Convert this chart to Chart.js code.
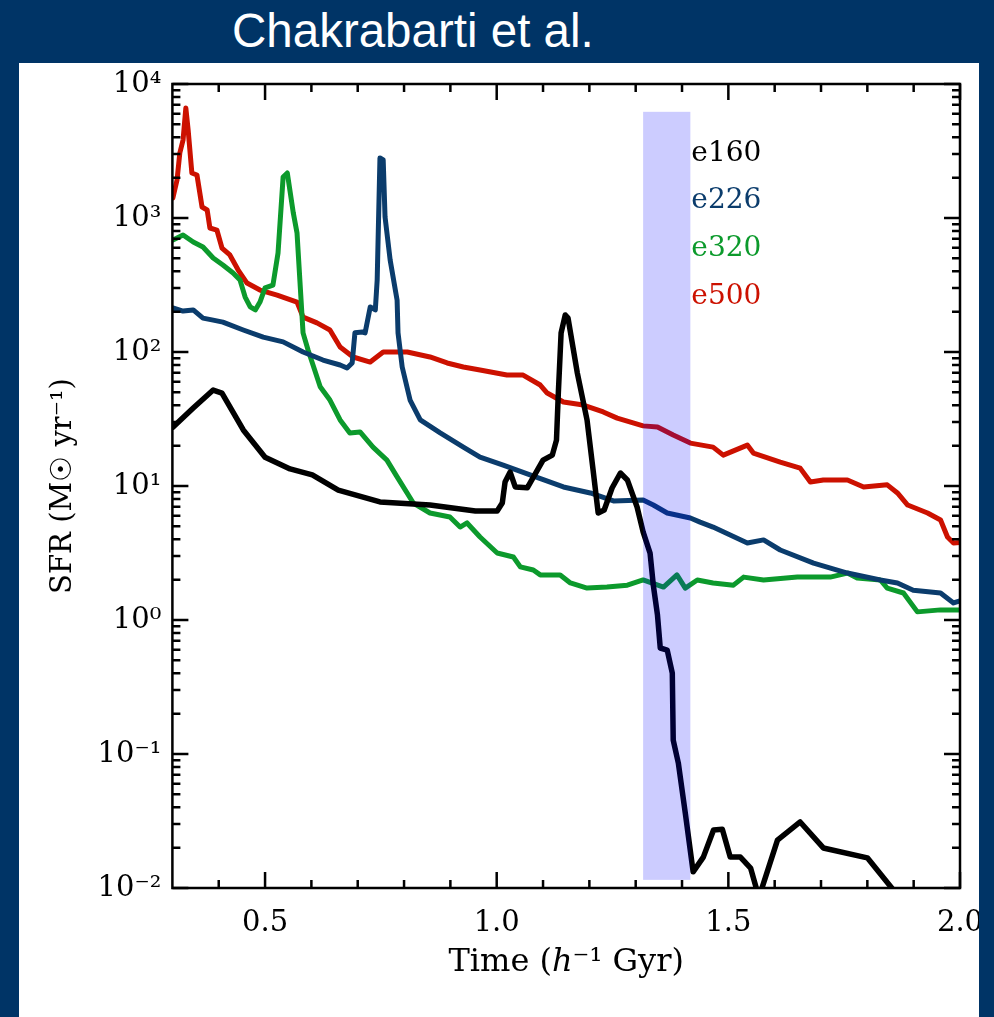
<!DOCTYPE html>
<html>
<head>
<meta charset="utf-8">
<script src="https://cdn.jsdelivr.net/npm/chart.js@4.4.1/dist/chart.umd.min.js"></script>
<style>
  html, body { margin: 0; padding: 0; }
  body { width: 994px; height: 1017px; background: #003466; position: relative; overflow: hidden; }
  #title { position: absolute; left: 232px; top: 8px; color: #fff; font: 47.5px/46px "Liberation Sans", Arial, sans-serif; white-space: nowrap; }
  #panel { position: absolute; left: 19px; top: 63px; width: 960px; height: 954px; background: #fff; overflow: hidden; }
  #chart { position: absolute; left: -19px; top: -63px; }
</style>
</head>
<body>
<div id="title">Chakrabarti et al.</div>
<div id="panel"><canvas id="chart" width="994" height="1017"></canvas></div>
<script>
// [time (h^-1 Gyr), SFR (Msun/yr)]
const e160 = [[0.301,27.5],[0.345,38.2],[0.388,52.0],[0.407,49.4],[0.453,26.2],[0.500,16.4],[0.554,13.4],[0.602,12.1],
  [0.658,9.33],[0.748,7.60],[0.856,7.21],[0.954,6.51],[1.001,6.5],[1.012,7.46],[1.018,10.7],[1.029,12.7],[1.040,9.84],
  [1.066,9.7],[1.100,15.6],[1.120,17.0],[1.129,22.0],[1.133,49.4],[1.139,139],[1.148,189],[1.154,179],[1.174,69.7],
  [1.195,31.1],[1.208,13.2],[1.219,6.29],[1.232,6.62],[1.249,9.66],[1.267,12.5],[1.282,11.1],[1.303,6.97],[1.316,4.54],
  [1.331,3.16],[1.338,1.82],[1.347,1.09],[1.353,0.618],[1.368,0.597],[1.379,0.402],[1.381,0.127],[1.392,0.0857],
  [1.407,0.0363],[1.424,0.0132],[1.446,0.0170],[1.468,0.0271],[1.487,0.0274],[1.504,0.0170],[1.526,0.0170],
  [1.548,0.0141],[1.566,0.0085],[1.606,0.0228],[1.655,0.0311],[1.705,0.0199],[1.800,0.0168],[1.882,0.0075]];

const e226 = [[0.301,213],[0.323,202],[0.345,206],[0.366,179],[0.388,173],[0.409,167],[0.453,146],[0.496,129],
  [0.539,119],[0.582,100],[0.625,87.1],[0.662,80.0],[0.677,76.0],[0.688,82.8],[0.694,139],[0.710,141],[0.716,139],
  [0.727,217],[0.738,206],[0.742,344],[0.748,2805],[0.755,2710],[0.759,1016],[0.770,486],[0.785,244],[0.787,139],
  [0.796,77.3],[0.813,43.8],[0.835,31.1],[0.878,24.9],[0.928,19.5],[0.964,16.4],[1.014,14.3],[1.072,12.1],[1.144,9.84],
  [1.202,8.87],[1.252,7.73],[1.316,7.87],[1.338,7.21],[1.368,6.29],[1.418,5.77],[1.439,5.38],[1.467,4.94],[1.541,3.76],
  [1.576,3.96],[1.612,3.33],[1.684,2.66],[1.757,2.24],[1.828,1.99],[1.865,1.89],[1.899,1.67],[1.958,1.59],[1.986,1.34],
  [2.005,1.41]];

const e320 = [[0.301,685],[0.323,747],[0.345,662],[0.366,608],[0.388,503],[0.409,446],[0.431,389],[0.446,344],
  [0.457,257],[0.468,217],[0.479,206],[0.489,236],[0.500,301],[0.517,316],[0.528,548],[0.539,2023],[0.548,2168],
  [0.561,1089],[0.569,773],[0.582,139],[0.593,103],[0.619,55],[0.640,43.8],[0.662,31.1],[0.683,24.9],[0.705,25.3],
  [0.733,19.5],[0.763,15.6],[0.785,11.7],[0.820,7.46],[0.856,6.29],[0.899,5.87],[0.921,4.94],[0.936,5.30],[0.964,4.16],
  [1.001,3.16],[1.036,2.95],[1.051,2.49],[1.079,2.36],[1.094,2.17],[1.137,2.17],[1.159,1.89],[1.195,1.73],[1.238,1.76],
  [1.282,1.82],[1.316,1.99],[1.360,1.76],[1.389,2.17],[1.407,1.73],[1.433,1.99],[1.467,1.89],[1.511,1.82],[1.533,2.09],
  [1.576,1.99],[1.649,2.09],[1.720,2.09],[1.757,2.24],[1.778,2.06],[1.828,1.99],[1.843,1.73],[1.878,1.59],[1.908,1.15],
  [1.958,1.19],[2.005,1.19]];

const e500 = [[0.301,1409],[0.310,1921],[0.316,3055],[0.323,3819],[0.329,6622],[0.334,4537],[0.342,2168],[0.353,2094],
  [0.364,1208],[0.375,1148],[0.381,842],[0.396,813],[0.407,597],[0.424,530],[0.442,409],[0.461,327],[0.489,290],
  [0.526,266],[0.569,236],[0.582,182],[0.612,165],[0.640,146],[0.662,109],[0.690,91.8],[0.727,84.1],[0.755,100],
  [0.807,100],[0.856,91.8],[0.893,82.8],[0.928,77.3],[0.964,73.4],[1.022,67.3],[1.057,67.3],[1.094,56.7],[1.109,49.4],
  [1.144,42.4],[1.187,40.2],[1.230,35.7],[1.260,32.1],[1.316,28.1],[1.347,27.6],[1.381,24.0],[1.418,20.9],[1.467,19.5],
  [1.489,17.0],[1.541,20.2],[1.554,17.6],[1.612,15.1],[1.655,13.6],[1.677,10.7],[1.705,11.1],[1.757,11.1],[1.792,9.84],
  [1.843,10.2],[1.865,8.87],[1.887,7.21],[1.930,6.29],[1.958,5.57],[1.973,4.16],[1.986,3.76],[2.005,3.80]];

const seriesNames = ['e160', 'e226', 'e320', 'e500'];
const seriesColors = ['#000000', '#0b3c6c', '#0c9a2c', '#cc1100'];

// shaded time window
const bandTime = [1.316, 1.418];
const bandSFR = [0.0115, 6200];

const xMajorTicks = [0.5, 1.0, 1.5, 2.0];
const xMinorTicks = [0.4, 0.6, 0.7, 0.8, 0.9, 1.1, 1.2, 1.3, 1.4, 1.6, 1.7, 1.8, 1.9];
const yMajorTicks = [0.01, 0.1, 1, 10, 100, 1000, 10000];
const yTickLabels = ['10⁻²', '10⁻¹', '10⁰', '10¹', '10²', '10³', '10⁴'];
const yMinorTicks = [];
for (let d = 0; d < yMajorTicks.length - 1; d++) {
  for (let m = 2; m <= 9; m++) yMinorTicks.push(yMajorTicks[d] * m);
}

const serif = '"DejaVu Serif", serif';

const decorations = {
  id: 'decorations',
  afterDatasetsDraw(chart) {
    const {ctx, scales: {x, y}} = chart;
    const x0 = x.getPixelForValue(bandTime[0]), x1 = x.getPixelForValue(bandTime[1]);
    const y0 = y.getPixelForValue(bandSFR[1]), y1 = y.getPixelForValue(bandSFR[0]);
    ctx.save();
    ctx.fillStyle = 'rgba(0,0,255,0.2)';
    ctx.fillRect(x0, y0, x1 - x0, y1 - y0);
    ctx.restore();
  },
  afterDraw(chart) {
    const {ctx, chartArea: a, scales: {x, y}} = chart;
    ctx.save();
    ctx.strokeStyle = '#000';
    ctx.lineWidth = 2.5;
    ctx.strokeRect(a.left, a.top, a.right - a.left, a.bottom - a.top);

    const tickX = (v, len) => {
      const p = x.getPixelForValue(v);
      ctx.beginPath();
      ctx.moveTo(p, a.bottom); ctx.lineTo(p, a.bottom - len);
      ctx.moveTo(p, a.top); ctx.lineTo(p, a.top + len);
      ctx.stroke();
    };
    const tickY = (v, len) => {
      const p = y.getPixelForValue(v);
      ctx.beginPath();
      ctx.moveTo(a.left, p); ctx.lineTo(a.left + len, p);
      ctx.moveTo(a.right, p); ctx.lineTo(a.right - len, p);
      ctx.stroke();
    };
    xMajorTicks.forEach(v => tickX(v, 16));
    xMinorTicks.forEach(v => tickX(v, 8));
    yMajorTicks.forEach(v => tickY(v, 16));
    yMinorTicks.forEach(v => tickY(v, 8));

    // series labels next to the band
    ctx.font = '28px ' + serif;
    ctx.textBaseline = 'alphabetic';
    ctx.textAlign = 'left';
    const lx = x.getPixelForValue(bandTime[1]) + 1;
    seriesNames.forEach((name, i) => {
      ctx.fillStyle = seriesColors[i];
      ctx.fillText(name, lx, a.top + 76.5 + i * 47.7);
    });

    // x-axis title with italic h
    const parts = [['Time (', '32px ' + serif], ['h', 'italic 32px ' + serif], ['⁻¹ Gyr)', '32px ' + serif]];
    let total = 0;
    parts.forEach(p => { ctx.font = p[1]; total += ctx.measureText(p[0]).width; });
    let cx = (a.left + a.right) / 2 - total / 2;
    ctx.fillStyle = '#000';
    parts.forEach(p => {
      ctx.font = p[1];
      ctx.fillText(p[0], cx, 971);
      cx += ctx.measureText(p[0]).width;
    });
    ctx.restore();
  }
};

const ctx = document.getElementById('chart').getContext('2d');
const chart = new Chart(ctx, {
  type: 'line',
  data: {
    datasets: [e160, e226, e320, e500].map((d, i) => ({
      label: seriesNames[i],
      data: d,
      borderColor: seriesColors[i],
      borderWidth: i === 0 ? 5.5 : 5,
      pointRadius: 0,
      tension: 0,
      fill: false,
      borderJoinStyle: 'round',
      borderCapStyle: 'round'
    }))
  },
  options: {
    responsive: false,
    animation: false,
    devicePixelRatio: 1,
    layout: { padding: { left: 0, right: 34, top: 84, bottom: 0 } },
    plugins: { legend: { display: false }, tooltip: { enabled: false } },
    scales: {
      x: {
        type: 'linear',
        min: 0.3,
        max: 2.0,
        grid: { display: false, drawTicks: false },
        border: { display: false },
        afterBuildTicks: s => { s.ticks = xMajorTicks.map(v => ({ value: v })); },
        afterFit: s => { s.height = 129; s.paddingLeft = 0; s.paddingRight = 0; },
        ticks: {
          autoSkip: false,
          maxRotation: 0,
          padding: 18,
          color: '#000',
          font: { family: serif, size: 29 },
          callback: v => v.toFixed(1)
        }
      },
      y: {
        type: 'logarithmic',
        min: 0.01,
        max: 10000,
        grid: { display: false, drawTicks: false },
        border: { display: false },
        afterBuildTicks: s => { s.ticks = yMajorTicks.map(v => ({ value: v })); },
        afterFit: s => { s.width = 172.4; s.paddingTop = 0; s.paddingBottom = 0; },
        ticks: {
          autoSkip: false,
          padding: 11,
          color: '#000',
          font: { family: serif, size: 29 },
          callback: v => yTickLabels[yMajorTicks.indexOf(v)]
        },
        title: {
          display: true,
          text: 'SFR (M☉ yr⁻¹)',
          color: '#000',
          font: { family: serif, size: 29 },
          padding: { top: 46, bottom: 0 }
        }
      }
    }
  },
  plugins: [decorations]
});
</script>
</body>
</html>
